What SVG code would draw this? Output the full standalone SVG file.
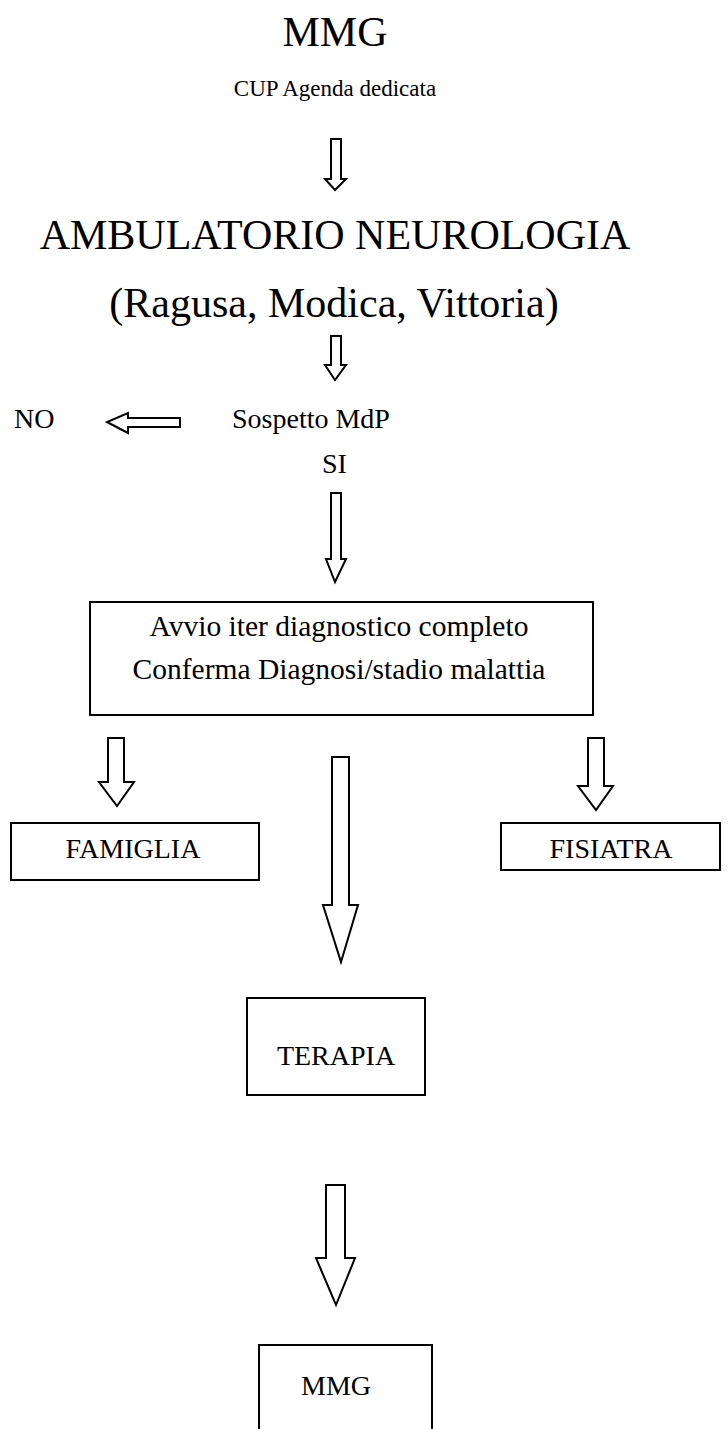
<svg xmlns="http://www.w3.org/2000/svg" width="727" height="1429" viewBox="0 0 727 1429">
<style>
text{font-family:"Liberation Serif","Times New Roman",serif;fill:#000}
.big{font-size:42px}
.sm{font-size:28px}
.bx{font-size:29.5px}
.cup{font-size:23px}
.box{fill:#fff;stroke:#000;stroke-width:2}
.arr{fill:#fff;stroke:#000;stroke-width:2;stroke-linejoin:miter}
</style>
<rect width="727" height="1429" fill="#fff"/>
<g id="title"><text class="big" x="335" y="46" text-anchor="middle">MMG</text></g>
<g id="cup"><text class="cup" x="335" y="96" text-anchor="middle">CUP Agenda dedicata</text></g>
<g id="ambulatorio">
<text class="big" x="335" y="249" text-anchor="middle">AMBULATORIO NEUROLOGIA</text>
<text class="big" x="334" y="317" text-anchor="middle">(Ragusa, Modica, Vittoria)</text>
</g>
<g id="no"><text class="sm" x="14" y="428">NO</text></g>
<g id="sospetto"><text class="sm" x="232" y="428">Sospetto MdP</text></g>
<g id="si"><text class="sm" x="322" y="473">SI</text></g>
<g id="avvio">
<rect class="box" x="90" y="602" width="503" height="113"/>
<text class="bx" x="339" y="636" text-anchor="middle">Avvio iter diagnostico completo</text>
<text class="bx" x="339" y="679" text-anchor="middle">Conferma Diagnosi/stadio malattia</text>
</g>
<g id="famiglia">
<rect class="box" x="11" y="823" width="248" height="57"/>
<text class="sm" x="133" y="858" text-anchor="middle">FAMIGLIA</text>
</g>
<g id="fisiatra">
<rect class="box" x="501" y="823" width="219" height="47"/>
<text class="sm" x="611" y="858" text-anchor="middle">FISIATRA</text>
</g>
<g id="terapia">
<rect class="box" x="247" y="998" width="178" height="97"/>
<text class="sm" x="336" y="1065" text-anchor="middle">TERAPIA</text>
</g>
<g id="mmg2">
<path class="box" d="M259,1440 V1345 H432 V1440"/>
<text class="sm" x="336" y="1395" text-anchor="middle">MMG</text>
</g>
<g id="connectors">
<path class="arr" d="M331,139 H341 V179 H346 L335,190 L325,179 H331 Z"/>
<path class="arr" d="M331,336 H341 V365 H346 L335,380 L325,365 H331 Z"/>
<path class="arr" d="M180,418 V427 H128 V433 L107,422 L128,413 V418 Z"/>
<path class="arr" d="M331,493 H341 V559 H346 L335,582 L326,559 H331 Z"/>
<path class="arr" d="M108,738 H124 V782 H134 L117,806 L99,782 H108 Z"/>
<path class="arr" d="M588,738 H604 V786 H613 L596,810 L578,786 H588 Z"/>
<path class="arr" d="M332,757 H349 V905 H358 L341,962 L323,905 H332 Z"/>
<path class="arr" d="M326,1185 H345 V1258 H355 L336,1305 L316,1258 H326 Z"/>
</g>
</svg>
